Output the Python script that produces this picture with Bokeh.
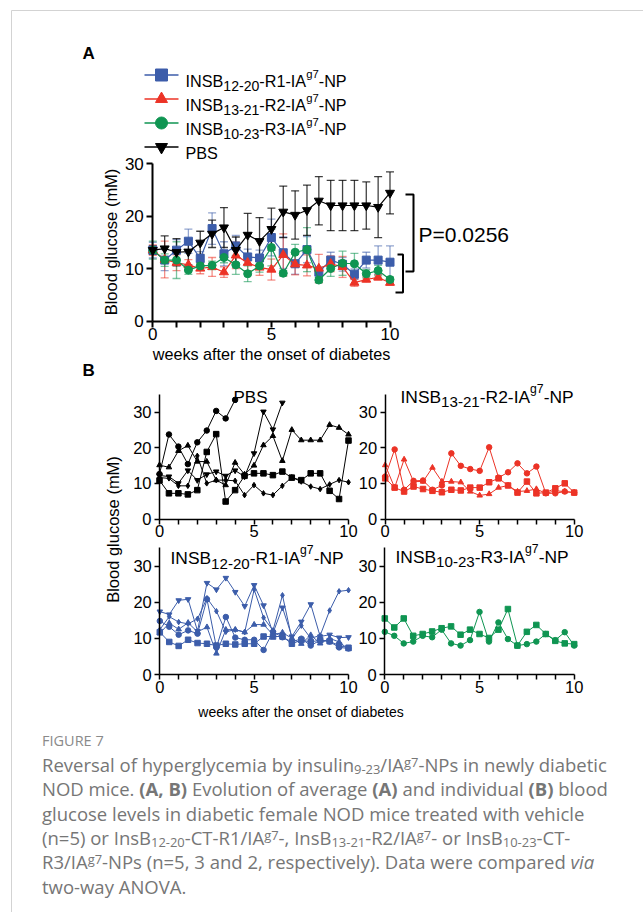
import math
from bokeh.plotting import figure
from bokeh.models import Range1d, LinearAxis, FixedTicker, Div
from bokeh.layouts import column
from bokeh.embed import file_html
from bokeh.resources import INLINE
from bokeh.core.properties import value

# ---------------- data ----------------
weeks = [0, 0.5, 1, 1.5, 2, 2.5, 3, 3.5, 4, 4.5, 5, 5.5, 6, 6.5, 7, 7.5, 8, 8.5, 9, 9.5, 10]

# Panel A: mean and SEM per group
a_r1_mean = [13.5, 11.6, 13.5, 15.2, 11.9, 17.6, 12.8, 14.3, 12.2, 12.0, 15.9, 13.0, 10.9, 13.6, 9.3, 11.6, 10.8, 8.9, 11.6, 11.6, 11.2]
a_r1_sem = [1.5, 2.0, 2.0, 2.3, 1.3, 3.0, 2.3, 2.0, 1.5, 1.5, 3.5, 3.0, 2.0, 2.5, 1.0, 1.5, 1.3, 1.0, 1.5, 2.7, 3.1]
a_r2_mean = [13.5, 11.7, 11.1, 10.7, 10.0, 10.3, 9.3, 12.5, 11.1, 10.2, 9.8, 12.6, 10.8, 10.6, 10.0, 10.9, 10.3, 7.3, 7.9, 8.3, 7.3]
a_r2_sem = [1.0, 3.5, 1.5, 1.0, 1.0, 1.8, 1.0, 2.5, 1.5, 1.5, 2.0, 4.0, 2.0, 2.0, 2.7, 1.5, 2.0, 0.7, 0.5, 0.5, 0.5]
a_r3_mean = [13.5, 11.6, 11.6, 9.7, 10.5, 10.6, 12.1, 10.7, 9.0, 10.5, 14.0, 9.1, 13.1, 13.6, 7.8, 10.0, 11.0, 10.9, 9.0, 9.6, 7.9]
a_r3_sem = [1.7, 1.2, 3.5, 0.8, 0.8, 0.8, 1.0, 1.8, 1.5, 1.2, 3.5, 0.5, 1.5, 4.2, 0.5, 1.5, 2.3, 2.0, 0.8, 1.0, 0.5]
a_pbs_mean = [13.5, 13.8, 13.1, 13.2, 14.9, 16.6, 17.8, 13.5, 16.4, 15.2, 17.5, 20.8, 20.2, 21.1, 22.9, 22.0, 22.0, 22.0, 22.0, 21.7, 24.4]
a_pbs_sem = [0.8, 2.4, 2.6, 2.5, 2.2, 2.6, 3.8, 2.5, 4.1, 4.5, 4.0, 4.9, 4.6, 4.8, 4.6, 4.8, 4.8, 4.8, 4.5, 5.8, 4.0]

# Panel B: individual mice
b_pbs_circle = [12.6, 23.7, 20.3, 15.4, 21.5, 24.8, 30.3, 28.2, 33.4]
b_pbs_square = [10.8, 7.2, 7.2, 6.9, 8.1, 18.8, 23.8, 4.9, 8.1, 12.1, 12.8, 12.8, 12.3, 13.3, 11.6, 10.9, 12.8, 12.8, 7.9, 5.6, 22.0]
b_pbs_triup = [15.1, 14.5, 19.1, 20.6, 16.1, 16.1, 10.9, 9.5, 15.8, 12.5, 15.0, 20.7, 23.3, 16.3, 25.0, 22.1, 22.1, 22.1, 26.4, 25.6, 23.7]
b_pbs_tridown = [12.2, 11.9, 10.0, 13.6, 10.9, 12.5, 13.3, 12.1, 13.6, 11.9, 18.4, 30.1, 25.1, 32.6]
b_pbs_diamond = [11.6, 11.4, 9.3, 9.3, 17.7, 10.0, 10.9, 10.9, 10.7, 6.7, 9.5, 7.2, 6.7, 9.3, 11.7, 10.5, 9.1, 8.4, 9.7, 10.9, 10.3]

b_r2_circle = [11.9, 19.5, 8.2, 10.7, 10.8, 8.2, 9.4, 18.4, 14.9, 14.0, 13.5, 20.1, 11.6, 13.1, 15.6, 12.8, 14.7, 7.2, 7.2, 7.7, 7.4]
b_r2_triangle = [15.1, 8.8, 16.7, 10.5, 10.5, 14.4, 10.5, 10.5, 10.3, 7.7, 6.6, 7.0, 8.8, 9.4, 7.7, 7.9, 8.4, 7.2, 7.9, 7.7, 7.4]
b_r2_square = [11.4, 8.8, 7.7, 9.1, 8.4, 7.9, 7.5, 8.2, 8.0, 8.8, 8.8, 10.3, 11.4, 9.4, 7.4, 10.5, 7.2, 7.4, 8.6, 10.0, 7.4]

b_r1_tridown = [17.4, 16.6, 20.5, 20.8, 12.0, 25.3, 23.5, 26.7, 22.8, 18.9, 24.7, 19.1, 11.5, 18.5, 10.5, 14.6, 19.4, 10.5, 11.0, 10.2, 10.3]
b_r1_diamond = [12.4, 16.0, 14.5, 14.0, 15.4, 21.1, 17.5, 11.8, 12.4, 11.7, 23.5, 15.7, 12.2, 21.9, 9.9, 13.5, 10.0, 10.8, 17.7, 23.0, 23.3]
b_r1_circle = [14.8, 13.2, 11.0, 12.2, 11.3, 20.8, 7.5, 15.9, 10.2, 9.6, 9.6, 6.8, 11.8, 10.3, 9.0, 9.9, 8.0, 9.5, 9.1, 7.5, 7.2]
b_r1_triup = [11.4, 14.2, 12.5, 14.3, 11.8, 13.1, 5.8, 12.4, 12.4, 11.7, 13.8, 13.8, 11.0, 11.6, 10.0, 8.5, 10.9, 8.6, 10.0, 9.0, 7.0]
b_r1_square = [11.7, 9.0, 7.9, 9.6, 8.7, 8.5, 8.0, 8.5, 8.3, 8.5, 8.5, 10.5, 10.5, 10.5, 8.5, 9.5, 9.0, 9.5, 9.2, 8.0, 7.4]

b_r3_square = [15.5, 13.0, 15.5, 10.7, 11.2, 11.9, 12.8, 13.3, 11.0, 12.4, 11.2, 10.1, 12.4, 18.1, 8.0, 11.8, 13.7, 11.2, 9.3, 8.6, 8.4]
b_r3_circle = [11.8, 10.7, 8.6, 9.1, 10.7, 10.3, 12.4, 8.6, 8.0, 9.5, 17.3, 9.1, 14.4, 9.8, 8.0, 8.4, 9.1, 11.2, 9.5, 11.7, 8.0]

x_ticks = [0, 5, 10]
x_minor_ticks = [1, 2, 3, 4, 6, 7, 8, 9]
y_ticks = [0, 10, 20, 30]

label_r1 = [("INSB", "n"), ("12-20", "sub"), ("-R1-IA", "n"), ("g7", "sup"), ("-NP", "n")]
label_r2 = [("INSB", "n"), ("13-21", "sub"), ("-R2-IA", "n"), ("g7", "sup"), ("-NP", "n")]
label_r3 = [("INSB", "n"), ("10-23", "sub"), ("-R3-IA", "n"), ("g7", "sup"), ("-NP", "n")]
label_pbs = [("PBS", "n")]
y_title = "Blood glucose (mM)"
x_title = "weeks after the onset of diabetes"
p_value = "P=0.0256"

BLUE = "#3C5DAA"
RED = "#EC3326"
GREEN = "#0F9552"
BLACK = "#000000"
FONT = "Liberation Sans"

# ---------------- figure (page coordinates, origin at page top-left) ----------------
W, HF = 643, 730
p = figure(width=W, height=HF, x_range=Range1d(0, W), y_range=Range1d(-HF, 0),
           output_backend="svg", toolbar_location=None, x_axis_location=None, y_axis_location=None,
           min_border=0, outline_line_color=None)
p.grid.visible = False
p.background_fill_color = "white"
p.border_fill_color = "white"


def setup_panel(name, x0, x10, y0, y30, ytop, lw, fs, tick_out):
    sx = (x10 - x0) / 10.0
    sy = (y0 - y30) / 30.0
    p.extra_x_ranges[name] = Range1d(-x0 / sx, (W - x0) / sx)
    p.extra_y_ranges[name] = Range1d(-(HF - y0) / sy, y0 / sy)
    xa = LinearAxis(x_range_name=name, y_range_name=name, fixed_location=0, bounds=(0, 10),
                    ticker=FixedTicker(ticks=x_ticks, minor_ticks=x_minor_ticks))
    ya = LinearAxis(x_range_name=name, y_range_name=name, fixed_location=0, bounds=(0, ytop),
                    ticker=FixedTicker(ticks=y_ticks))
    for ax in (xa, ya):
        ax.axis_line_width = lw
        ax.axis_line_color = "black"
        ax.major_tick_line_width = lw
        ax.major_tick_in = 0
        ax.major_tick_out = tick_out
        ax.minor_tick_line_width = lw
        ax.minor_tick_in = 0
        ax.minor_tick_out = tick_out
        ax.major_label_text_font = FONT
        ax.major_label_text_font_size = fs
        ax.major_label_text_color = "black"
    xa.major_label_standoff = 1
    ya.major_label_standoff = 3
    p.add_layout(xa, "below")
    p.add_layout(ya, "left")


setup_panel("A", 152.3, 389.5, 320.5, 163.0, 30, 2.0, "17px", 6)
setup_panel("TL", 159.0, 348.0, 518.5, 411.5, 35, 1.5, "16.5px", 5)
setup_panel("TR", 384.7, 573.7, 518.5, 411.5, 35, 1.5, "16.5px", 5)
setup_panel("BL", 159.3, 348.0, 674.0, 565.5, 35, 1.5, "16.5px", 5)
setup_panel("BR", 384.3, 573.7, 674.0, 565.5, 35, 1.5, "16.5px", 5)

# ---------------- text helpers ----------------
AW = {'I': 278, 'N': 722, 'S': 667, 'B': 667, 'R': 722, 'A': 667, 'P': 667, 'g': 556,
      '-': 333, ' ': 278, '=': 584, '.': 278}


def tw(s, fs):
    return sum(AW.get(ch, 556) for ch in s) * fs / 1000.0


def txt(x, py, s, fs, color="black", align="left", baseline="middle", style="normal", angle=0.0):
    p.text(x=[x], y=[-py], text=[s], text_font=value(FONT), text_font_size=f"{fs:.1f}px",
           text_color=color, text_align=align, text_baseline=baseline,
           text_font_style=style, angle=angle)


def rich(x, base_py, parts, fs, color="black"):
    cx = x
    for s, kind in parts:
        if kind == "sub":
            f, dy = fs * 0.87, fs * 0.33
        elif kind == "sup":
            f, dy = fs * 0.7, -fs * 0.45
        else:
            f, dy = fs, 0.0
        txt(cx, base_py + dy, s, f, color, baseline="alphabetic")
        cx += tw(s, f)


# ---------------- frame lines of the figure box ----------------
p.line(x=[11, 11], y=[-10, -HF], line_color="#d3d3d3", line_width=1)
p.line(x=[11, 643], y=[-10, -10], line_color="#d3d3d3", line_width=1)

# ---------------- Panel A ----------------
txt(82, 52.5, "A", 17, style="bold")

groups_a = [
    (a_r1_mean, a_r1_sem, BLUE, "square", 8),
    (a_r2_mean, a_r2_sem, RED, "triangle", 9),
    (a_r3_mean, a_r3_sem, GREEN, "circle", 8),
    (a_pbs_mean, a_pbs_sem, BLACK, "inverted_triangle", 9),
]
for mean, sem, c, m, sz in groups_a:
    lo = [mv - sv for mv, sv in zip(mean, sem)]
    hi = [mv + sv for mv, sv in zip(mean, sem)]
    alpha = 0.55 if c != BLACK else 0.75
    p.segment(x0=weeks, y0=lo, x1=weeks, y1=hi, x_range_name="A", y_range_name="A",
              line_color=c, line_alpha=alpha, line_width=1.3)
    p.scatter(x=weeks + weeks, y=lo + hi, x_range_name="A", y_range_name="A", marker="dash",
              size=8, line_color=c, line_alpha=alpha, line_width=1.3)
for mean, sem, c, m, sz in groups_a:
    p.line(x=weeks, y=mean, x_range_name="A", y_range_name="A", line_color=c, line_width=1.2)
    p.scatter(x=weeks, y=mean, x_range_name="A", y_range_name="A", marker=m, size=sz,
              fill_color=c, line_color=c)

# legend
legend_rows = [(74.5, BLUE, "square", label_r1), (98.5, RED, "triangle", label_r2),
               (122.5, GREEN, "circle", label_r3), (146.5, BLACK, "inverted_triangle", label_pbs)]
for yc, c, m, parts in legend_rows:
    p.line(x=[144, 178], y=[-yc, -yc], line_color=c, line_width=1.5)
    p.scatter(x=[161], y=[-yc], marker=m, size=12, fill_color=c, line_color=c)
    rich(185, yc + 6.0, parts, 16.2)

# axis titles
txt(110, 241.5, y_title, 16.5, align="center", angle=math.pi / 2)
txt(271, 353, x_title, 16.2, align="center")

# significance brackets
p.line(x=[405, 413, 413, 405], y=[-194, -194, -271, -271], line_color="black", line_width=2)
p.line(x=[397, 402.5, 402.5, 395], y=[-254, -254, -292, -292], line_color="black", line_width=2)
txt(418, 233.5, p_value, 21)

# ---------------- Panel B ----------------
txt(82, 370, "B", 17, style="bold")


def draw_ind(name, ys, c, m):
    xs = weeks[:len(ys)]
    p.line(x=xs, y=ys, x_range_name=name, y_range_name=name, line_color=c, line_width=1)
    p.scatter(x=xs, y=ys, x_range_name=name, y_range_name=name, marker=m, size=5.5,
              fill_color=c, line_color=c)


for ys, m in [(b_pbs_circle, "circle"), (b_pbs_square, "square"), (b_pbs_triup, "triangle"),
              (b_pbs_tridown, "inverted_triangle"), (b_pbs_diamond, "diamond")]:
    draw_ind("TL", ys, BLACK, m)
for ys, m in [(b_r2_circle, "circle"), (b_r2_triangle, "triangle"), (b_r2_square, "square")]:
    draw_ind("TR", ys, RED, m)
for ys, m in [(b_r1_tridown, "inverted_triangle"), (b_r1_diamond, "diamond"), (b_r1_circle, "circle"),
              (b_r1_triup, "triangle"), (b_r1_square, "square")]:
    draw_ind("BL", ys, BLUE, m)
for ys, m in [(b_r3_square, "square"), (b_r3_circle, "circle")]:
    draw_ind("BR", ys, GREEN, m)

rich(233, 397, label_pbs, 17)
rich(400, 396, label_r2, 17.4)
rich(170, 557.5, label_r1, 17.4)
rich(395, 556, label_r3, 17.4)

txt(112, 529, y_title, 16.5, align="center", angle=math.pi / 2)
txt(300.5, 711.5, x_title, 14, align="center")

# ---------------- caption ----------------
SUB = '<sub style="font-size:0.7em;line-height:0;vertical-align:-0.14em">'
SUP = '<sup style="font-size:0.7em;line-height:0;vertical-align:0.42em">'
caption_lines = [
    "Reversal of hyperglycemia by insulin" + SUB + "9-23</sub>/IA" + SUP + "g7</sup>-NPs in newly diabetic",
    "NOD mice. <b>(A, B)</b> Evolution of average <b>(A)</b> and individual <b>(B)</b> blood",
    "glucose levels in diabetic female NOD mice treated with vehicle",
    "(n=5) or InsB" + SUB + "12-20</sub>-CT-R1/IA" + SUP + "g7</sup>-, InsB" + SUB + "13-21</sub>-R2/IA"
    + SUP + "g7</sup>- or InsB" + SUB + "10-23</sub>-CT-",
    "R3/IA" + SUP + "g7</sup>-NPs (n=5, 3 and 2, respectively). Data were compared <i>via</i>",
    "two-way ANOVA.",
]
DH = 182
html = (
    f'<div style="position:relative;width:{W}px;height:{DH}px;font-family:\'Open Sans\',sans-serif;">'
    f'<div style="position:absolute;left:11px;top:0;width:1px;height:{DH}px;background:#d3d3d3;"></div>'
    '<div style="position:absolute;left:42px;top:2px;font-size:14.5px;line-height:18px;color:#8a8a8a;">FIGURE 7</div>'
    '<div style="position:absolute;left:42px;top:22.8px;font-size:18.5px;line-height:24.4px;color:#767676;'
    'white-space:nowrap;">'
    + "<br>".join(caption_lines) + '</div></div>'
)
div = Div(text=html, width=W, height=DH, margin=0)

layout = column(p, div)
open("out.html", "w").write(file_html(layout, INLINE))
